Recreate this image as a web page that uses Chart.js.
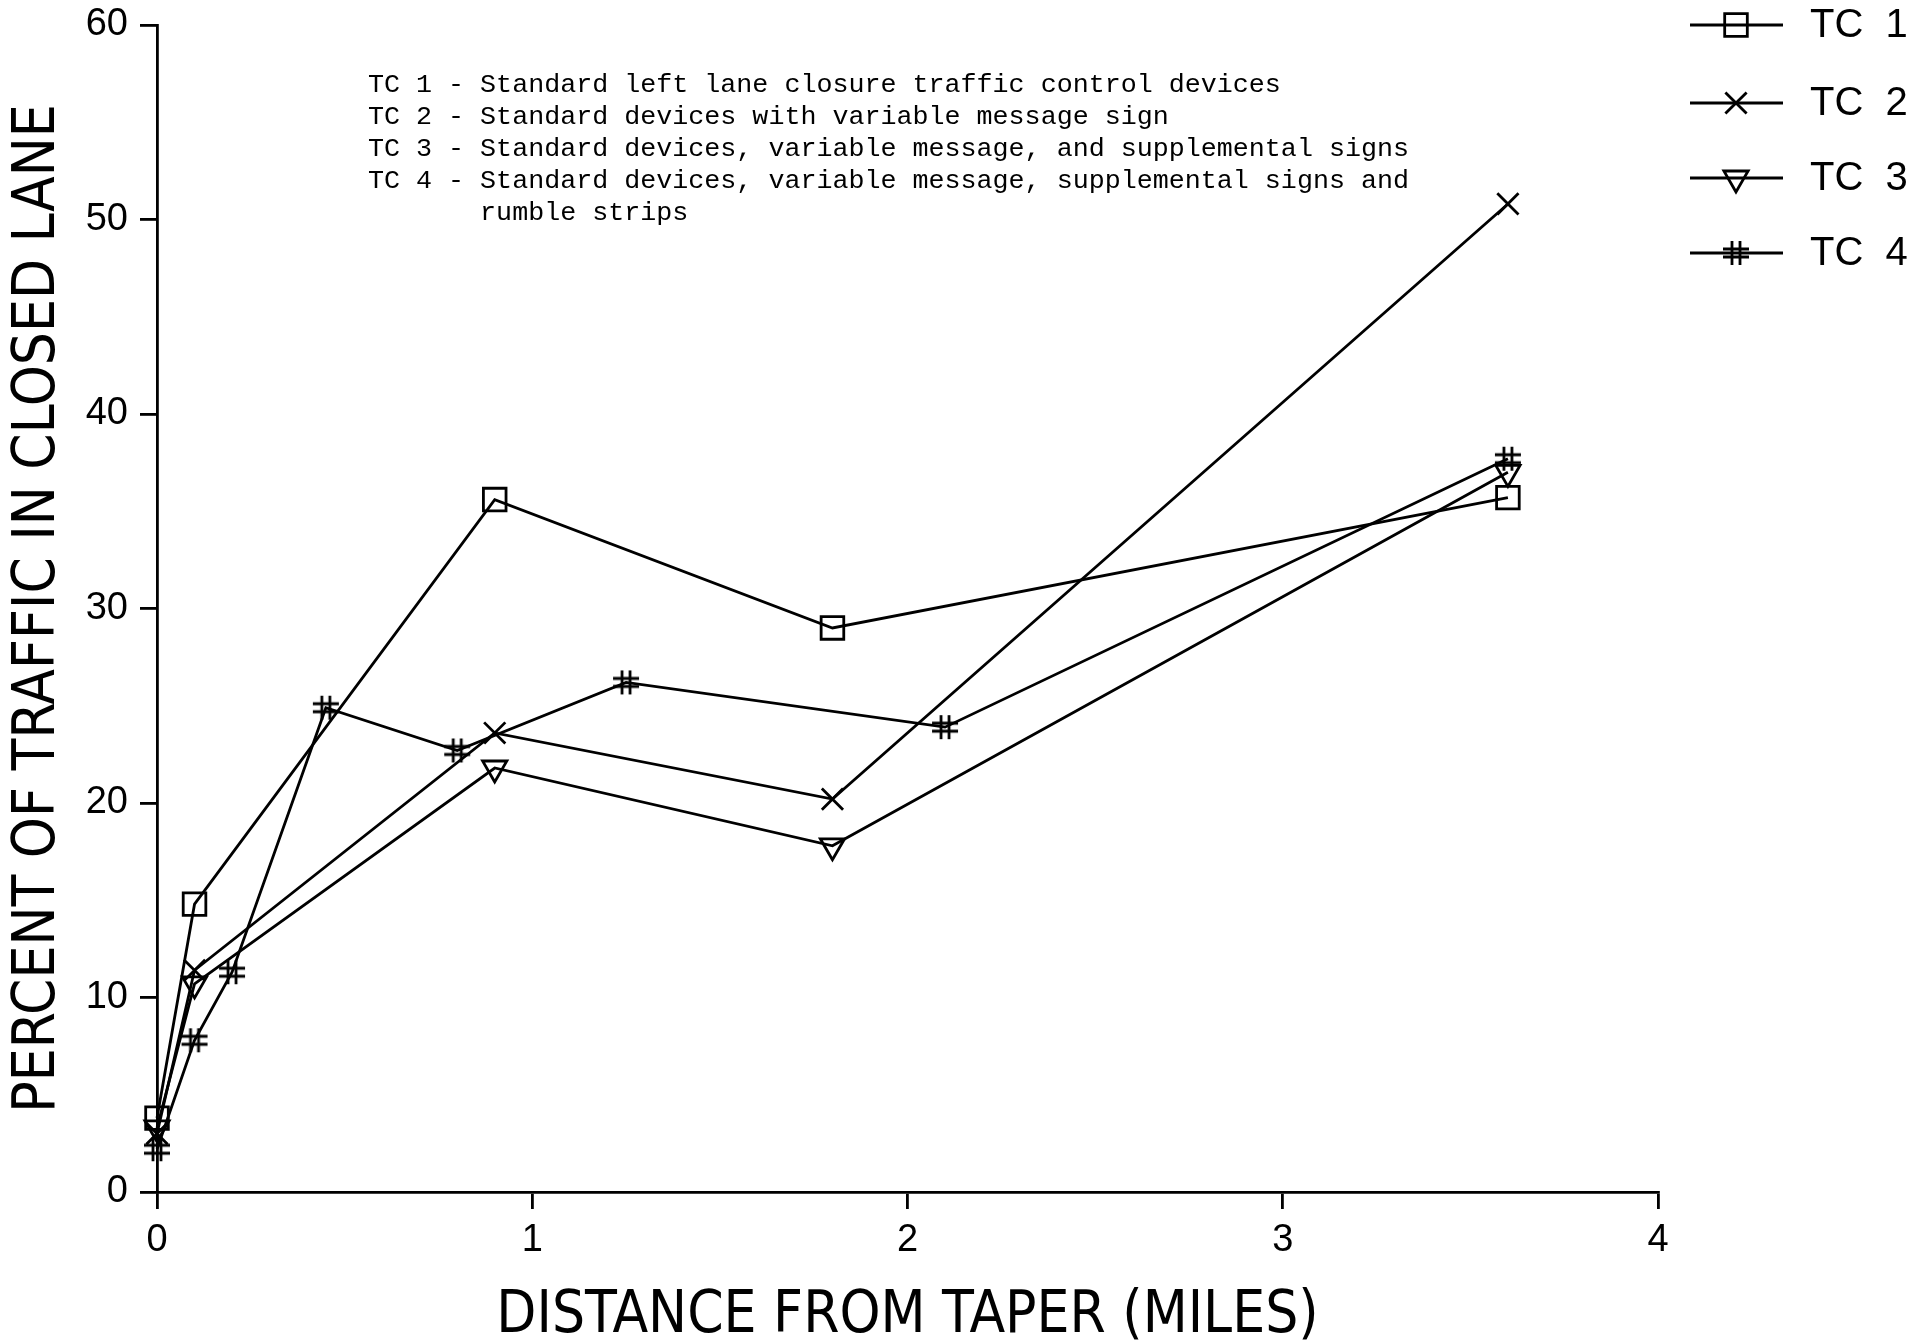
<!DOCTYPE html>
<html>
<head>
<title>Percent of traffic in closed lane</title>
<script src="https://cdn.jsdelivr.net/npm/chart.js"></script>
<style>
    body { margin: 0; background: #fff; }
    #wrap { width: 1923px; height: 1341px; }
</style>
</head>
<body>
<div id="wrap"><canvas id="chart" width="1923" height="1341"></canvas></div>
<script>
// values (distance in miles, percent in closed lane)
const seriesNames = ['TC 1', 'TC 2', 'TC 3', 'TC 4'];
const tc1Miles = [0, 0.1, 0.9, 1.8, 3.6];
const tc1Pct = [3.8, 14.8, 35.6, 29.0, 35.7];
const tc2Miles = [0, 0.1, 0.9, 1.8, 3.6];
const tc2Pct = [3.0, 11.4, 23.6, 20.2, 50.8];
const tc3Miles = [0, 0.1, 0.9, 1.8, 3.6];
const tc3Pct = [3.3, 10.7, 21.8, 17.8, 37.0];
const tc4Miles = [0, 0.1, 0.2, 0.45, 0.8, 1.25, 2.1, 3.6];
const tc4Pct = [2.2, 7.8, 11.3, 24.9, 22.7, 26.2, 23.9, 37.7];

const xTicks = [0, 1, 2, 3, 4];
const yTicks = [0, 10, 20, 30, 40, 50, 60];
const notes = [
    'TC 1 - Standard left lane closure traffic control devices',
    'TC 2 - Standard devices with variable message sign',
    'TC 3 - Standard devices, variable message, and supplemental signs',
    'TC 4 - Standard devices, variable message, supplemental signs and',
    '       rumble strips'
];

const titleFont = '"Liberation Sans Narrow", "DejaVu Sans Condensed", "Liberation Sans", sans-serif';
const tickFont = '"Liberation Sans", sans-serif';

// the "#" marker used for TC 4
function hashMark() {
    const c = document.createElement('canvas');
    c.width = 30; c.height = 30;
    const g = c.getContext('2d');
    g.strokeStyle = '#000';
    g.lineWidth = 2.8;
    g.beginPath();
    g.moveTo(2, 11); g.lineTo(28, 11);
    g.moveTo(2, 19); g.lineTo(28, 19);
    g.moveTo(11, 3); g.lineTo(11, 27);
    g.moveTo(19, 3); g.lineTo(19, 27);
    g.stroke();
    return c;
}

const markers = [
    { pointStyle: 'rect', rotation: 0, radius: 16 },
    { pointStyle: 'crossRot', rotation: 0, radius: 15 },
    { pointStyle: 'triangle', rotation: 180, radius: 14 },
    { pointStyle: hashMark(), rotation: 0, radius: 14 }
];

function pairs(xs, ys) {
    return xs.map((x, i) => ({ x: x, y: ys[i] }));
}
const allData = [
    pairs(tc1Miles, tc1Pct),
    pairs(tc2Miles, tc2Pct),
    pairs(tc3Miles, tc3Pct),
    pairs(tc4Miles, tc4Pct)
];

const datasets = seriesNames.map((name, i) => ({
    label: name,
    data: allData[i],
    borderColor: '#000',
    borderWidth: 2.8,
    tension: 0,
    clip: false,
    pointStyle: markers[i].pointStyle,
    pointRotation: markers[i].rotation,
    pointRadius: markers[i].radius,
    pointBorderWidth: 2.8,
    pointBorderColor: '#000',
    pointBackgroundColor: 'rgba(0,0,0,0)'
}));

// text block describing the traffic controls
const notesPlugin = {
    id: 'notes',
    afterDraw(chart) {
        const ctx = chart.ctx;
        ctx.save();
        ctx.fillStyle = '#000';
        ctx.font = '26.7px "Liberation Mono", monospace';
        ctx.textBaseline = 'middle';
        ctx.textAlign = 'left';
        notes.forEach((line, i) => {
            ctx.fillText(line, 368, 85 + i * 32);
        });
        ctx.restore();
    }
};

// legend: line with marker, then label
const legendPlugin = {
    id: 'sideLegend',
    afterDraw(chart) {
        const ctx = chart.ctx;
        const rowsY = [25, 103, 178, 253];
        ctx.save();
        seriesNames.forEach((name, i) => {
            const y = rowsY[i];
            ctx.strokeStyle = '#000';
            ctx.lineWidth = 2.8;
            ctx.beginPath();
            ctx.moveTo(1690, y);
            ctx.lineTo(1783, y);
            ctx.stroke();
            ctx.fillStyle = 'rgba(0,0,0,0)';
            Chart.helpers.drawPoint(ctx, {
                pointStyle: markers[i].pointStyle,
                rotation: markers[i].rotation,
                radius: markers[i].radius,
                borderWidth: 2.8
            }, 1736, y);
            ctx.fillStyle = '#000';
            ctx.font = '40px ' + tickFont;
            ctx.textBaseline = 'middle';
            ctx.textAlign = 'left';
            ctx.fillText(name.replace(' ', '  '), 1810, y + 1);
        });
        ctx.restore();
    }
};

const ctx = document.getElementById('chart').getContext('2d');
new Chart(ctx, {
    type: 'line',
    data: { datasets: datasets },
    options: {
        responsive: false,
        animation: false,
        layout: { padding: { top: 25, right: 265, left: 0, bottom: 0 } },
        plugins: {
            legend: { display: false },
            tooltip: { enabled: false }
        },
        scales: {
            x: {
                type: 'linear',
                min: xTicks[0],
                max: xTicks[xTicks.length - 1],
                afterBuildTicks(scale) { scale.ticks = xTicks.map(v => ({ value: v })); },
                afterFit(scale) { scale.height = 149; },
                ticks: { color: '#000', padding: 9, font: { family: tickFont, size: 38 } },
                grid: { drawOnChartArea: false, drawTicks: true, tickLength: 17, color: '#000', lineWidth: 2.8 },
                border: { display: true, color: '#000', width: 2.8 },
                title: {
                    display: true,
                    text: 'DISTANCE FROM TAPER (MILES)',
                    color: '#000',
                    padding: { top: 0, bottom: -5 },
                    font: { family: titleFont, size: 58, lineHeight: 1 }
                }
            },
            y: {
                min: yTicks[0],
                max: yTicks[yTicks.length - 1],
                afterBuildTicks(scale) { scale.ticks = yTicks.map(v => ({ value: v })); },
                afterFit(scale) {
                    scale.width = 157;
                    scale.paddingTop = 0;
                    scale.paddingBottom = 0;
                },
                ticks: { color: '#000', padding: 12, font: { family: tickFont, size: 38 } },
                grid: { drawOnChartArea: false, drawTicks: true, tickLength: 17, color: '#000', lineWidth: 2.8 },
                border: { display: true, color: '#000', width: 2.8 },
                title: {
                    display: true,
                    text: 'PERCENT OF TRAFFIC IN CLOSED LANE',
                    color: '#000',
                    padding: 4,
                    font: { family: titleFont, size: 58, lineHeight: 1.2 }
                }
            }
        }
    },
    plugins: [notesPlugin, legendPlugin]
});
</script>
</body>
</html>
